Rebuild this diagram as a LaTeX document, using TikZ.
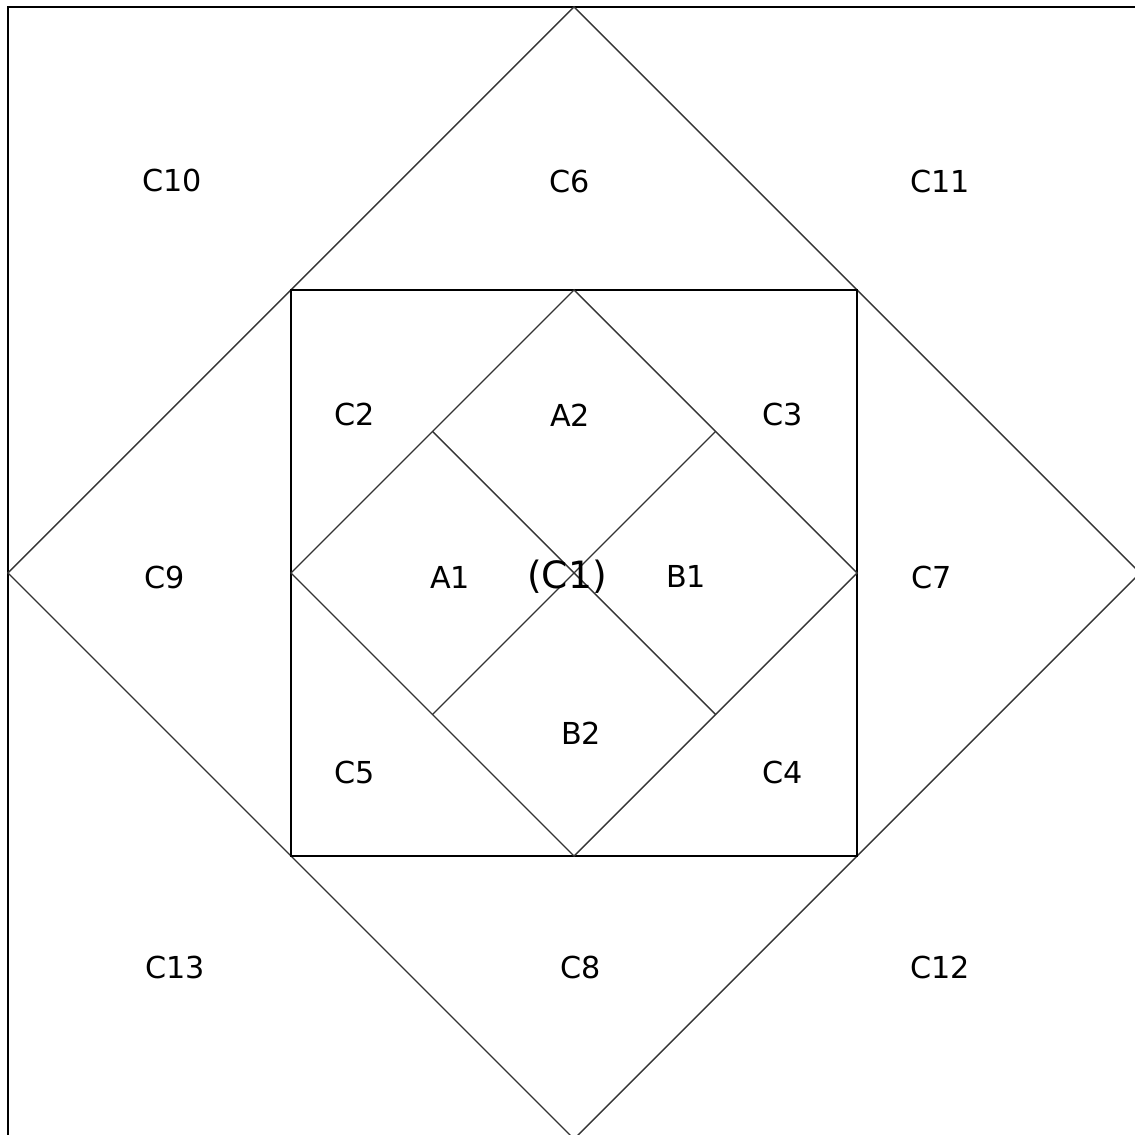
\documentclass[tikz,border=0pt]{standalone}
\usepackage{fontspec}
\setmainfont{DejaVu Sans}

\tikzset{
  patch/.style={font=\fontsize{8.6}{10}\selectfont, inner sep=0pt},
  core/.style={font=\fontsize{10.7}{12}\selectfont, inner sep=0pt},
  seam/.style={line width=0.4pt, black!80},
  edge/.style={line width=0.6pt, black}
}

\begin{document}
\begin{tikzpicture}
    \useasboundingbox (-5.74,-5.62) rectangle (5.61,5.73);
    \clip (-5.74,-5.62) rectangle (5.61,5.73);
    % frame and outer diamond
    \draw[edge] (-5.66,-5.9) -- (-5.66,5.66) -- (5.9,5.66);
    \draw[seam] (0,5.66) -- (5.66,0) -- (0,-5.66) -- (-5.66,0) -- cycle;
    % inner square and diamond
    \draw[edge] (-2.83,-2.83) rectangle (2.83,2.83);
    \draw[seam] (0,2.83) -- (2.83,0) -- (0,-2.83) -- (-2.83,0) -- cycle;
    \draw[seam] (-1.415,1.415) -- (1.415,-1.415);
    \draw[seam] (1.415,1.415) -- (-1.415,-1.415);
    % labels
    \node[patch] (c10) at (-4.02,3.92) {C10};
    \node[patch] (c6) at (-0.04,3.91) {C6};
    \node[patch] (c11) at (3.66,3.91) {C11};
    \node[patch] (c2) at (-2.19,1.58) {C2};
    \node[patch] (a2) at (-0.04,1.58) {A2};
    \node[patch] (c3) at (2.09,1.58) {C3};
    \node[patch] (c9) at (-4.09,-0.04) {C9};
    \node[patch] (a1) at (-1.24,-0.04) {A1};
    \node[core] (c1) at (-0.07,-0.04) {(C1)};
    \node[patch] (b1) at (1.12,-0.03) {B1};
    \node[patch] (c7) at (3.58,-0.04) {C7};
    \node[patch] (c5) at (-2.19,-1.99) {C5};
    \node[patch] (b2) at (0.07,-1.60) {B2};
    \node[patch] (c4) at (2.09,-1.99) {C4};
    \node[patch] (c13) at (-3.99,-3.94) {C13};
    \node[patch] (c8) at (0.07,-3.94) {C8};
    \node[patch] (c12) at (3.66,-3.94) {C12};
\end{tikzpicture}
\end{document}
